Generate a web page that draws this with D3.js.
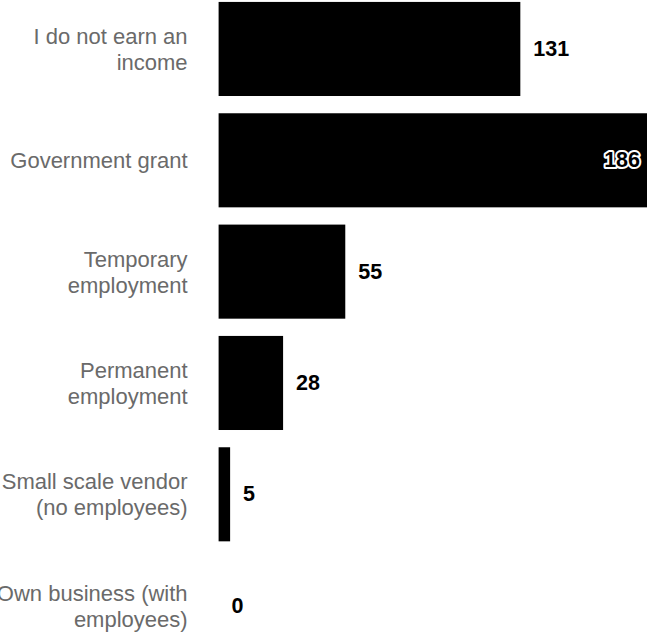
<!DOCTYPE html>
<html>
<head>
<meta charset="utf-8">
<script src="https://cdn.jsdelivr.net/npm/d3@7"></script>
<style>
    body { margin: 0; background: #fff; }
    svg { display: block; }
</style>
</head>
<body>
<div id="chart"></div>
<script>
// data
const categories = [
    "I do not earn an income",
    "Government grant",
    "Temporary employment",
    "Permanent employment",
    "Small scale vendor (no employees)",
    "Own business (with employees)",
];
const values = [131, 186, 55, 28, 5, 0];

const width = 647;
const height = 634;
const marginLeft = 218.6;
const marginRight = 0;
const marginTop = -6.7;
const plotHeight = 668;

const labelColor = "#6a6a6a";
const barColor = "#000000";
const fontFamily = "'Liberation Sans', Arial, Helvetica, sans-serif";

const x = d3
    .scaleLinear()
    .domain([0, d3.max(values)])
    .range([marginLeft, width - marginRight]);

const y = d3
    .scaleBand()
    .domain(categories)
    .range([marginTop, marginTop + plotHeight])
    .paddingInner(0.155)
    .paddingOuter(0.0775);

const svg = d3
    .select("#chart")
    .append("svg")
    .attr("width", width)
    .attr("height", height)
    .attr("viewBox", `0 0 ${width} ${height}`);

// bars
svg.append("g")
    .selectAll("rect")
    .data(values)
    .enter()
    .append("rect")
    .attr("x", x(0))
    .attr("y", (d, i) => y(categories[i]))
    .attr("width", (d) => x(d) - x(0))
    .attr("height", y.bandwidth())
    .attr("fill", barColor);

// category labels, wrapped
const yAxis = svg
    .append("g")
    .attr("transform", `translate(${marginLeft - 31},0)`)
    .call(d3.axisLeft(y).tickSize(0).tickPadding(0))
    .call((g) => g.select(".domain").remove());

yAxis.selectAll("text")
    .attr("fill", labelColor)
    .attr("font-family", fontFamily)
    .attr("font-size", 22)
    .call(wrap, 200);

function wrap(texts, maxWidth) {
    texts.each(function () {
        const text = d3.select(this);
        const words = text.text().split(/\s+/);
        const lineHeight = 26;
        text.text(null);
        let lines = [];
        let line = [];
        let tspan = text.append("tspan");
        for (const w of words) {
            line.push(w);
            tspan.text(line.join(" "));
            if (tspan.node().getComputedTextLength() > maxWidth && line.length > 1) {
                line.pop();
                lines.push(line.join(" "));
                line = [w];
                tspan.text(w);
            }
        }
        lines.push(line.join(" "));
        text.text(null);
        const offset = -((lines.length - 1) * lineHeight) / 2;
        lines.forEach((l, i) => {
            text.append("tspan")
                .attr("x", 0)
                .attr("dy", i === 0 ? offset : lineHeight)
                .text(l);
        });
        text.attr("dy", null).attr("dominant-baseline", "central");
    });
}

// value labels (inside the bar when there is no room outside)
const inside = (d) => x(d) + 60 > width;

svg.append("g")
    .selectAll("text")
    .data(values)
    .enter()
    .append("text")
    .attr("x", (d) => (inside(d) ? x(d) - 7 : x(d) + 13))
    .attr("y", (d, i) => y(categories[i]) + y.bandwidth() / 2)
    .attr("text-anchor", (d) => (inside(d) ? "end" : "start"))
    .attr("dominant-baseline", "central")
    .attr("font-family", fontFamily)
    .attr("font-size", 21.5)
    .attr("font-weight", "bold")
    .attr("fill", "#000")
    .attr("stroke", "#fff")
    .attr("stroke-width", 4)
    .attr("stroke-linejoin", "round")
    .attr("paint-order", "stroke")
    .text((d) => d);
</script>
</body>
</html>
